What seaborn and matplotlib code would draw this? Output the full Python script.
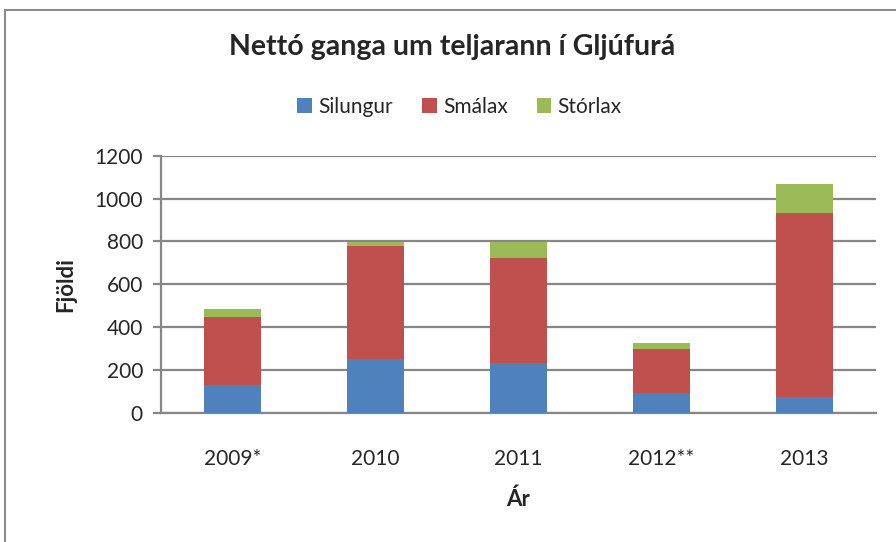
import pandas as pd
import matplotlib.pyplot as plt
import seaborn as sns
from matplotlib.patches import Patch, Rectangle

# values
years = ['2009*', '2010', '2011', '2012**', '2013']
silungur = [128, 249, 231, 90, 73]
smalax = [319, 528, 493, 209, 861]
storlax = [36, 20, 71, 26, 132]

series_names = ['Silungur', 'Smálax', 'Stórlax']
colors = ['#4F81BD', '#C0504D', '#9BBB59']
grid_color = '#878787'

df = pd.DataFrame({'year': years, 'Silungur': silungur,
                   'Smálax': smalax, 'Stórlax': storlax})
# cumulative tops for stacking (draw tallest first, overlay smaller)
df['top_silungur'] = df['Silungur']
df['top_smalax'] = df['Silungur'] + df['Smálax']
df['top_storlax'] = df['top_smalax'] + df['Stórlax']

sns.set_theme(style='white')
plt.rcParams['font.family'] = ['Lato', 'DejaVu Sans']

fig = plt.figure(figsize=(8.96, 5.42), dpi=100)
ax = fig.add_axes([0.1797, 0.2386, 0.7980, 0.4741])

for col, c in zip(['top_storlax', 'top_smalax', 'top_silungur'], colors[::-1]):
    sns.barplot(data=df, x='year', y=col, color=c, width=0.4,
                saturation=1, ax=ax, linewidth=0, zorder=3)

ax.set_ylim(0, 1200)
ax.set_xlim(-0.5, 4.5)
ax.set_yticks(range(0, 1201, 200))
ax.yaxis.grid(True, color=grid_color, linewidth=1.6, zorder=0)
ax.set_axisbelow(True)
for s in ['top', 'right']:
    ax.spines[s].set_visible(False)
for s in ['left', 'bottom']:
    ax.spines[s].set_color(grid_color)
    ax.spines[s].set_linewidth(1.6)
ax.tick_params(axis='y', which='both', left=True, length=6, width=1.6,
               color=grid_color, labelsize=15, pad=7)
ax.tick_params(axis='x', bottom=False, labelsize=15, pad=20)

ax.set_xlabel('Ár', fontsize=16, fontweight='bold', labelpad=14)
ax.set_ylabel('Fjöldi', fontsize=16, fontweight='bold', labelpad=13)

fig.text(0.505, 0.913, 'Nettó ganga um teljarann í Gljúfurá', ha='center',
         va='center', fontsize=20.5, fontweight='bold')

handles = [Patch(facecolor=c, edgecolor='none') for c in colors]
fig.legend(handles, series_names, loc='center', bbox_to_anchor=(0.513, 0.803),
           ncol=3, frameon=False, fontsize=15, handlelength=0.7,
           handleheight=0.7, handletextpad=0.3, columnspacing=1.4)

# outer chart frame (cropped on right and bottom)
fig.patches.append(Rectangle((5 / 896, -0.05), 1.2, 1 - 10 / 542 + 0.05,
                             transform=fig.transFigure, fill=False,
                             edgecolor='#8c8c8c', linewidth=1.5))

fig.savefig('out.png', dpi=100, facecolor='white')
